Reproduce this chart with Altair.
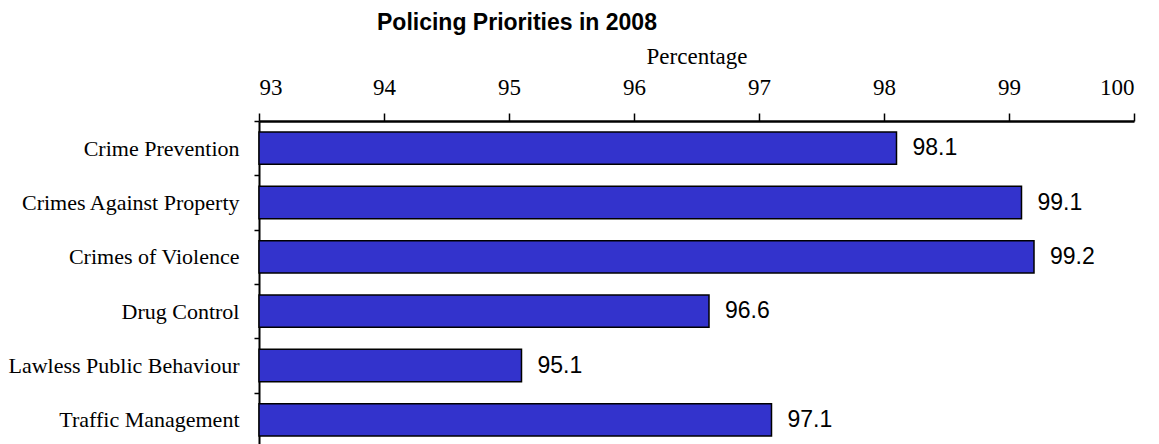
import altair as alt
import pandas as pd

categories = ["Crime Prevention", "Crimes Against Property", "Crimes of Violence",
              "Drug Control", "Lawless Public Behaviour", "Traffic Management"]
values = [98.1, 99.1, 99.2, 96.6, 95.1, 97.1]
x_ticks = [93, 94, 95, 96, 97, 98, 99, 100]
x_min, x_max = 93, 100

df = pd.DataFrame({"category": categories, "value": values})

y_enc = alt.Y("category:N", sort=categories, title=None,
              scale=alt.Scale(paddingInner=0, paddingOuter=0, range=[0, 326]),
              axis=alt.Axis(tickBand="extent", labelFont="Liberation Serif", labelFontSize=22,
                            labelColor="black", labelPadding=15, tickSize=5, tickWidth=1.5,
                            tickColor="black", domainColor="black", domainWidth=2,
                            labelBaseline="middle", labelLimit=400, grid=False))

x_enc = alt.X("value:Q", title="Percentage",
              scale=alt.Scale(domain=[x_min, x_max], zero=False, nice=False),
              axis=alt.Axis(orient="top", values=x_ticks, format="d", grid=False,
                            labelFont="Liberation Serif", labelFontSize=23, labelColor="black",
                            labelPadding=14, tickSize=8, tickWidth=1.5, tickColor="black",
                            domainColor="black", domainWidth=2.5,
                            titleFont="Liberation Serif", titleFontSize=23, titleFontWeight="normal",
                            titleColor="black", titleY=-58, titleBaseline="alphabetic"))

bars = alt.Chart(df).mark_bar(color="#3333CC", stroke="black", strokeWidth=1.5,
                              height=alt.RelativeBandSize(0.595)).encode(
    y=y_enc, x=x_enc, x2=alt.datum(x_min))

labels = alt.Chart(df).mark_text(align="left", baseline="middle", dx=16,
                                 font="Liberation Sans", fontSize=23, color="black").encode(
    y=alt.Y("category:N", sort=categories),
    x=alt.X("value:Q"),
    text=alt.Text("value:Q", format=".1f"))

chart = alt.layer(bars, labels).properties(
    width=875, height=323,
    background="white",
    title=alt.TitleParams("Policing Priorities in 2008", font="Liberation Sans", fontSize=23,
                          fontWeight="bold", color="black", anchor="start", frame="group",
                          dx=118, dy=-6),
    autosize=alt.AutoSizeParams(type="none"),
    padding={"left": 251, "top": 113, "right": 16, "bottom": 0},
).configure_view(stroke=None)

chart.save("out.html", embed_options={"renderer": "svg", "actions": False})
